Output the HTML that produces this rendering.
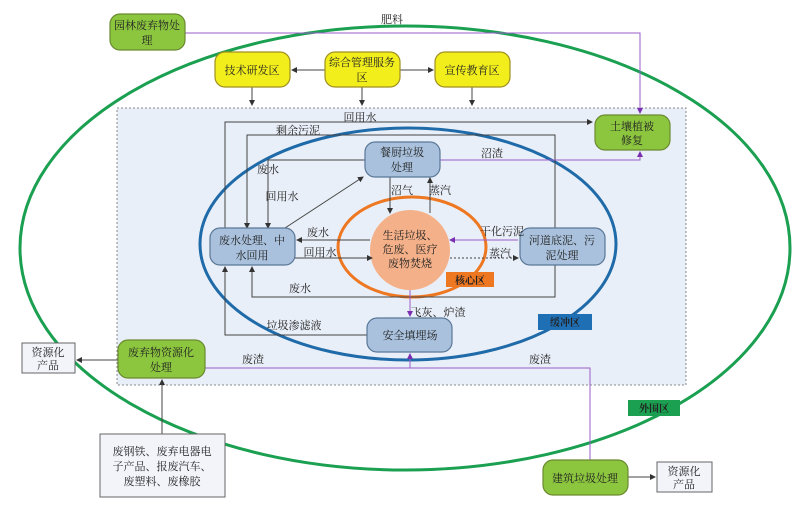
<!DOCTYPE html>
<html><head><meta charset="utf-8"><style>
html,body{margin:0;padding:0;background:#fff;}
svg text{font-family:"Liberation Serif","Noto Serif CJK SC",serif;font-size:11px;fill:#222;}
</style></head><body>
<svg width="800" height="514" viewBox="0 0 800 514" xmlns="http://www.w3.org/2000/svg">
<defs>
<marker id="a" markerWidth="6" markerHeight="6" refX="5" refY="3" orient="auto"><path d="M0,0L6,3L0,6z" fill="#333"/></marker>
<marker id="p" markerWidth="6" markerHeight="6" refX="5" refY="3" orient="auto"><path d="M0,0L6,3L0,6z" fill="#7a2fb0"/></marker>
</defs>
<rect x="117" y="108" width="569" height="277" fill="#e9eff8" stroke="#888" stroke-dasharray="2,2"/>
<ellipse cx="405" cy="248" rx="385" ry="222" fill="none" stroke="#1aa050" stroke-width="3"/>
<ellipse cx="408" cy="244" rx="208" ry="116" fill="none" stroke="#1f6aa8" stroke-width="3"/>
<ellipse cx="412" cy="247" rx="74" ry="50" fill="none" stroke="#ee7722" stroke-width="3"/>
<circle cx="410" cy="250" r="40" fill="#f4b088"/>
<g fill="none" stroke="#444" stroke-width="1">
<path d="M252 87V105" marker-end="url(#a)"/><path d="M362 87V105" marker-end="url(#a)"/><path d="M472 87V105" marker-end="url(#a)"/>
<path d="M325 70H292" marker-end="url(#a)"/><path d="M400 70H433" marker-end="url(#a)"/>
<path d="M225 228V122H592" marker-end="url(#a)"/>
<path d="M555 228V135H247V228" marker-end="url(#a)"/>
<path d="M365 160H268V228" marker-end="url(#a)"/>
<path d="M285 228L363 177" marker-end="url(#a)"/>
<path d="M390 177V213" marker-end="url(#a)"/>
<path d="M430 213V178" marker-end="url(#a)"/>
<path d="M370 240H297" marker-end="url(#a)"/>
<path d="M295 258H372" marker-end="url(#a)"/>
<path d="M450 258H518" stroke-dasharray="2,2" marker-end="url(#a)"/>
<path d="M555 265V297H252V267" marker-end="url(#a)"/>
<path d="M367 335H225V267" marker-end="url(#a)"/>
<path d="M118 360H77" marker-end="url(#a)"/>
<path d="M162 434V380" marker-end="url(#a)"/>
<path d="M628 477H655" marker-end="url(#a)"/>
</g>
<g fill="none" stroke="#9a5cc8" stroke-width="1">
<path d="M185 33H640V113" marker-end="url(#p)"/>
<path d="M440 160H640V152" marker-end="url(#p)"/>
<path d="M518 240H450" marker-end="url(#p)"/>
<path d="M410 290V316" marker-end="url(#p)"/>
<path d="M205 368H590V460"/>
<path d="M410 368V354" marker-end="url(#p)"/>
</g>
<g stroke="#6a8a30" stroke-width="1.2" fill="#8cc63f">
<rect x="110" y="14" width="75" height="36" rx="10"/>
<rect x="595" y="115" width="75" height="35" rx="10"/>
<rect x="118" y="340" width="87" height="38" rx="10"/>
<rect x="543" y="460" width="85" height="35" rx="10"/>
</g>
<g stroke="#a09020" stroke-width="1.2" fill="#f2ee1c">
<rect x="215" y="52" width="75" height="35" rx="10"/>
<rect x="325" y="52" width="75" height="35" rx="10"/>
<rect x="435" y="52" width="75" height="35" rx="10"/>
</g>
<g stroke="#5a7898" stroke-width="1.2" fill="#a9c1dc">
<rect x="365" y="142" width="75" height="35" rx="10"/>
<rect x="210" y="228" width="85" height="37" rx="10"/>
<rect x="520" y="228" width="85" height="37" rx="10"/>
<rect x="367" y="318" width="85" height="34" rx="10"/>
</g>
<g stroke="#666" fill="#f2f4fa">
<rect x="22" y="343" width="53" height="30"/>
<rect x="100" y="434" width="125" height="63"/>
<rect x="657" y="462" width="55" height="30"/>
</g>
<rect x="446" y="272" width="48" height="15" fill="#ee7722"/>
<rect x="538" y="314" width="54" height="16" fill="#1f6fb5"/>
<rect x="628" y="400" width="52" height="16" fill="#1aa050"/>
<g text-anchor="middle">
<text x="147" y="29">园林废弃物处</text><text x="147" y="44">理</text>
<text x="252" y="74">技术研发区</text>
<text x="362" y="66">综合管理服务</text><text x="362" y="81">区</text>
<text x="472" y="74">宣传教育区</text>
<text x="632" y="130">土壤植被</text><text x="632" y="144">修复</text>
<text x="402" y="156">餐厨垃圾</text><text x="402" y="171">处理</text>
<text x="252" y="244">废水处理、中</text><text x="252" y="259">水回用</text>
<text x="562" y="244">河道底泥、污</text><text x="562" y="259">泥处理</text>
<text x="410" y="239">生活垃圾、</text><text x="410" y="253">危废、医疗</text><text x="410" y="267">废物焚烧</text>
<text x="410" y="339">安全填埋场</text>
<text x="161" y="356">废弃物资源化</text><text x="161" y="371">处理</text>
<text x="48" y="356">资源化</text><text x="48" y="369">产品</text>
<text x="162" y="455">废钢铁、废弃电器电</text><text x="162" y="470">子产品、报废汽车、</text><text x="162" y="485">废塑料、废橡胶</text>
<text x="585" y="482">建筑垃圾处理</text>
<text x="684" y="475">资源化</text><text x="684" y="488">产品</text>
<text x="470" y="284" font-weight="bold" style="font-size:10px">核心区</text>
<text x="565" y="326" font-weight="bold" style="font-size:10px">缓冲区</text>
<text x="654" y="412" font-weight="bold" style="font-size:10px">外围区</text>
<text x="392" y="23">肥料</text>
<text x="360" y="121">回用水</text>
<text x="298" y="134">剩余污泥</text>
<text x="492" y="157">沼渣</text>
<text x="268" y="173">废水</text>
<text x="282" y="200">回用水</text>
<text x="402" y="194">沼气</text>
<text x="440" y="194">蒸汽</text>
<text x="318" y="236">废水</text>
<text x="320" y="256">回用水</text>
<text x="502" y="235">干化污泥</text>
<text x="500" y="257">蒸汽</text>
<text x="300" y="292">废水</text>
<text x="438" y="316">飞灰、炉渣</text>
<text x="294" y="329">垃圾渗滤液</text>
<text x="253" y="363">废渣</text>
<text x="540" y="363">废渣</text>
</g>
</svg>
</body></html>
